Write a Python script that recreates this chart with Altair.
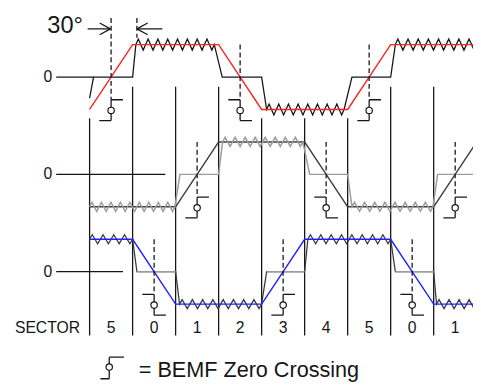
import altair as alt
import pandas as pd

# ---------------- data (angle in electrical degrees, level in per-unit) ----------------
SECTOR_BOUNDS = [0, 60, 120, 180, 240, 300, 360, 420, 480]
SECTOR_LINE_TOP = [-1.27, -0.30, -0.30, -0.30, -1.27, -1.27, -1.27, -0.30, -0.30]
SECTOR_LINE_BOTTOM = -7.97
SECTOR_CENTERS = [30, 90, 150, 210, 270, 330, 390, 450, 510]
SECTOR_LABELS = ["5", "0", "1", "2", "3", "4", "5", "0", "1"]

PHASE_OFFSETS = [0, -3, -6]
ZERO_LINE_START = -46.6
ZERO_LINE_END = [5.5, 105.6, 46.6]
ZERO_LABEL_ANGLE = -52

TRAP_A_ANGLE = [0, 60, 180, 240, 360, 420, 540]
TRAP_A_LEVEL = [-1, 1, 1, -1, -1, 1, 1]
TERM_A_ANGLE = [0, 5.5, 60, 64.5, 174, 185, 240, 247, 355, 366, 420, 426.5, 540]
TERM_A_LEVEL = [-0.65, 0, 0, 1, 1, 0, 0, -1, -1, 0, 0, 1, 1]

TRAP_B_ANGLE = [0, 120, 180, 300, 360, 480, 540]
TRAP_B_LEVEL = [-1, -1, 1, 1, -1, -1, 1]
TERM_B_ANGLE = [0, 119, 126, 180, 185.5, 297.5, 307, 360, 366, 479, 485.5, 540]
TERM_B_LEVEL = [-1, -1, 0, 0, 1, 1, 0, 0, -1, -1, 0, 0]

TRAP_C_ANGLE = [0, 60, 120, 240, 300, 420, 480, 540]
TRAP_C_LEVEL = [1, 1, -1, -1, 1, 1, -1, -1]
TERM_C_ANGLE = [0, 60, 66, 120, 125.5, 240, 247, 300, 304.5, 420, 426.5, 480, 484, 540]
TERM_C_LEVEL = [1, 1, 0, 0, -1, -1, 0, 0, 1, 1, 0, 0, -1, -1]

ZC_ANGLES = [[30, 210, 390], [150, 330, 510], [90, 270, 450]]
ZC_RISING = [[1, 0, 1], [1, 0, 1], [0, 1, 0]]
ZC_DASH_TOP = [[1.82, 1.0, 1.0], [1.0, 1.0, 1.0], [1.0, 1.0, 1.0]]

MARKER_30_ANGLE = 66
MARKER_30_TOP, MARKER_30_BOTTOM = 1.82, 1.21
ARROW_LEVEL = 1.485
ARROW_RIGHT = (-2.7, 29)     # tail, tip
ARROW_LEFT = (101.5, 66)     # tail, tip

LEGEND_ANGLE = 27.4
LEGEND_TOP, LEGEND_MID, LEGEND_BOT = -8.636, -8.94, -9.30
LEGEND_TEXT = "= BEMF Zero Crossing"

# ---------------- colours / styles ----------------
INK = "#161616"
RED = "#ff2020"
BLUE = "#2020ff"
GRAY_DARK = "#3c3c3c"
GRAY_LIGHT = "#9c9c9c"
FONT = "Liberation Sans"

W, H = 473, 376
XS = alt.Scale(domain=[-113.83, 534.86], nice=False, zero=False)
YS = alt.Scale(domain=[-9.3636, 2.0303], nice=False, zero=False)
X = lambda f="a": alt.X(f"{f}:Q", scale=XS, axis=None)
Y = lambda f="v": alt.Y(f"{f}:Q", scale=YS, axis=None)


def ripple(angles, levels, offset, amp=0.17, period=13.7):
    pts = []
    for i in range(len(angles)):
        a, l = angles[i], levels[i]
        pts.append((a, l + offset))
        if i + 1 < len(angles) and levels[i + 1] == l and l != 0:
            a2 = angles[i + 1]
            n = max(1, round((a2 - a) / period))
            step = (a2 - a) / (2 * n)
            for k in range(2 * n):
                pts.append((a + (k + 0.5) * step, l + offset + (amp if k % 2 == 0 else -amp)))
    return pd.DataFrame([{"i": j, "a": a, "v": v} for j, (a, v) in enumerate(pts)])


def plain(angles, levels, offset):
    return pd.DataFrame([{"i": j, "a": a, "v": l + offset} for j, (a, l) in enumerate(zip(angles, levels))])


def line_layer(df, color, width=1.3):
    return alt.Chart(df).mark_line(color=color, strokeWidth=width, clip=True).encode(
        x=X(), y=Y(), order="i:Q")


def rule_layer(rows, color, width=1.3, dash=None):
    kw = dict(color=color, strokeWidth=width, clip=True)
    if dash:
        kw["strokeDash"] = dash
    return alt.Chart(pd.DataFrame(rows)).mark_rule(**kw).encode(
        x=X(), x2="a2:Q", y=Y(), y2="v2:Q")


def text_layer(rows, size, align, color=INK):
    return alt.Chart(pd.DataFrame(rows)).mark_text(
        font=FONT, fontSize=size, align=align, baseline="middle", color=color
    ).encode(x=X(), y=Y(), text="t:N")


layers = []

# sector boundaries
layers.append(rule_layer([{"a": a, "a2": a, "v": t, "v2": SECTOR_LINE_BOTTOM}
                          for a, t in zip(SECTOR_BOUNDS, SECTOR_LINE_TOP)], INK, 1.3))
# zero reference lines
layers.append(rule_layer([{"a": ZERO_LINE_START, "a2": e, "v": o, "v2": o}
                          for o, e in zip(PHASE_OFFSETS, ZERO_LINE_END)], INK, 1.2))

# phase A
layers.append(line_layer(ripple(TERM_A_ANGLE, TERM_A_LEVEL, PHASE_OFFSETS[0]), INK, 1.3))
layers.append(line_layer(plain(TRAP_A_ANGLE, TRAP_A_LEVEL, PHASE_OFFSETS[0]), RED, 1.4))
# phase B
layers.append(line_layer(plain(TRAP_B_ANGLE, TRAP_B_LEVEL, PHASE_OFFSETS[1]), GRAY_DARK, 1.5))
layers.append(line_layer(ripple(TERM_B_ANGLE, TERM_B_LEVEL, PHASE_OFFSETS[1], amp=0.14), GRAY_LIGHT, 1.5))
# phase C
layers.append(line_layer(ripple(TERM_C_ANGLE, TERM_C_LEVEL, PHASE_OFFSETS[2], amp=0.14), GRAY_DARK, 1.3))
floats_c = [{"a": TERM_C_ANGLE[i], "a2": TERM_C_ANGLE[i + 1], "v": PHASE_OFFSETS[2], "v2": PHASE_OFFSETS[2]}
            for i in range(len(TERM_C_ANGLE) - 1) if TERM_C_LEVEL[i] == 0 and TERM_C_LEVEL[i + 1] == 0]
layers.append(rule_layer(floats_c, GRAY_LIGHT, 1.5))
layers.append(line_layer(plain(TRAP_C_ANGLE, TRAP_C_LEVEL, PHASE_OFFSETS[2]), BLUE, 1.4))

# zero-crossing dashed markers and symbols
dash_rows, sym_rows, circ_rows = [], [], []
HL = 16.5
for o, angs, ris, tops in zip(PHASE_OFFSETS, ZC_ANGLES, ZC_RISING, ZC_DASH_TOP):
    for a, r, t in zip(angs, ris, tops):
        top, mid, bot = o - 0.70, o - 1.03, o - 1.34
        dash_rows.append({"a": a, "a2": a, "v": o + t if t < 1.5 else t, "v2": top})
        d = HL if r else -HL
        sym_rows += [{"a": a, "a2": a, "v": top, "v2": bot},
                     {"a": a, "a2": a + d, "v": top, "v2": top},
                     {"a": a - d, "a2": a, "v": bot, "v2": bot}]
        circ_rows.append({"a": a, "v": mid})
dash_rows.append({"a": MARKER_30_ANGLE, "a2": MARKER_30_ANGLE, "v": MARKER_30_TOP, "v2": MARKER_30_BOTTOM})
layers.append(rule_layer(dash_rows, INK, 1.3, dash=[5, 3]))

# legend symbol
sym_rows += [{"a": LEGEND_ANGLE, "a2": LEGEND_ANGLE, "v": LEGEND_TOP, "v2": LEGEND_BOT},
             {"a": LEGEND_ANGLE, "a2": LEGEND_ANGLE + 20.6, "v": LEGEND_TOP, "v2": LEGEND_TOP},
             {"a": LEGEND_ANGLE - 12.3, "a2": LEGEND_ANGLE, "v": LEGEND_BOT, "v2": LEGEND_BOT}]
circ_rows.append({"a": LEGEND_ANGLE, "v": LEGEND_MID})
layers.append(rule_layer(sym_rows, INK, 1.3))
layers.append(alt.Chart(pd.DataFrame(circ_rows)).mark_point(
    shape="circle", size=42, filled=True, fill="white", stroke=INK, strokeWidth=1.2, opacity=1
).encode(x=X(), y=Y()))

# 30 degree arrows
HEAD_LEN, HEAD_HALF = 15, 0.18
arrow_rows = []
for tail, tip in [ARROW_RIGHT, ARROW_LEFT]:
    s = 1 if tip > tail else -1
    arrow_rows += [{"a": tail, "a2": tip, "v": ARROW_LEVEL, "v2": ARROW_LEVEL},
                   {"a": tip - s * HEAD_LEN, "a2": tip, "v": ARROW_LEVEL + HEAD_HALF, "v2": ARROW_LEVEL},
                   {"a": tip - s * HEAD_LEN, "a2": tip, "v": ARROW_LEVEL - HEAD_HALF, "v2": ARROW_LEVEL}]
layers.append(rule_layer(arrow_rows, INK, 1.2))

# texts
layers.append(text_layer([{"a": ZERO_LABEL_ANGLE, "v": o, "t": "0"} for o in PHASE_OFFSETS], 16, "right"))
layers.append(text_layer([{"a": -59, "v": 1.576, "t": "30°"}], 24, "left"))
layers.append(text_layer([{"a": -104.2, "v": -7.727, "t": "SECTOR"}], 16, "left"))
layers.append(text_layer([{"a": c, "v": -7.727, "t": s} for c, s in zip(SECTOR_CENTERS, SECTOR_LABELS)], 16, "center"))
layers.append(text_layer([{"a": 68.6, "v": -9.02, "t": LEGEND_TEXT}], 22, "left"))

chart = alt.layer(*layers).properties(
    width=W, height=H, padding=0, autosize=alt.AutoSizeParams(type="none"),
    background="white"
).configure_view(stroke=None)

chart.save("out.html", embed_options={"renderer": "svg", "actions": False})
